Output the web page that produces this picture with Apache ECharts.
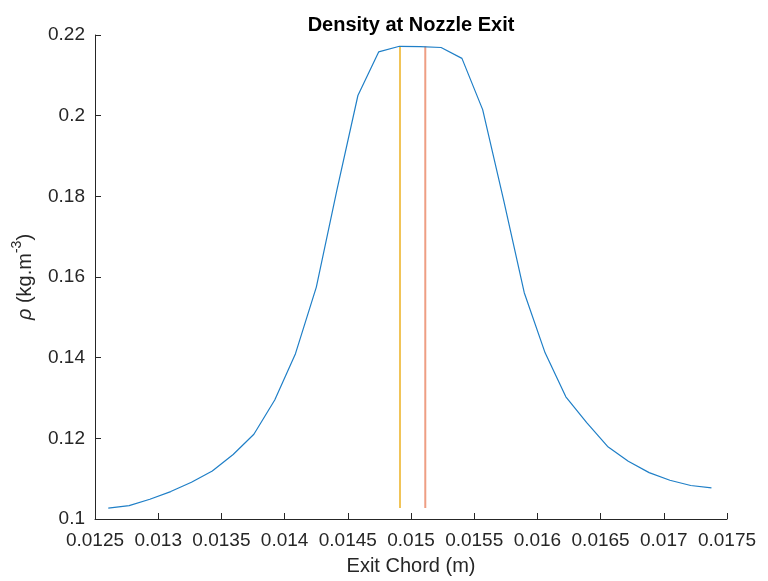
<!DOCTYPE html>
<html>
<head>
<meta charset="utf-8">
<script src="https://cdn.jsdelivr.net/npm/echarts@6/dist/echarts.min.js"></script>
<style>
  html, body { margin: 0; padding: 0; background: #fff; }
  #chart { width: 768px; height: 581px; }
</style>
</head>
<body>
<div id="chart"></div>
<script>
// Exit chord positions (m)
const chordX = [
  0.012605, 0.012770, 0.012934, 0.013099, 0.013263, 0.013428, 0.013593, 0.013757,
  0.013922, 0.014086, 0.014251, 0.014415, 0.014580, 0.014744, 0.014909, 0.015074,
  0.015238, 0.015403, 0.015567, 0.015732, 0.015896, 0.016061, 0.016225, 0.016390,
  0.016555, 0.016719, 0.016884, 0.017048, 0.017213, 0.017377
];
// Density at each chord position (kg/m^3)
const density = [
  0.1027, 0.1033, 0.1049, 0.1068, 0.1091, 0.1119, 0.1160, 0.1210,
  0.1295, 0.1410, 0.1575, 0.1817, 0.2050, 0.2158, 0.2172, 0.2171,
  0.2169, 0.2142, 0.2015, 0.1792, 0.1561, 0.1412, 0.1303, 0.1239,
  0.1180, 0.1143, 0.1115, 0.1096, 0.1083, 0.1077
];
// Marker positions along the chord
const markerYellowX = 0.014913;
const markerRedX = 0.015113;
const densityMin = 0.1027;
const densityMax = 0.2172;

// Axis ranges
const xMin = 0.0125, xMax = 0.0175, xStep = 0.0005;
const yMin = 0.1, yMax = 0.22, yStep = 0.02;

const axisColor = '#262626';
const fontFam = '"Liberation Sans", Arial, sans-serif';
const tickFont = 19;
const nameFont = 20;
const fmt = v => String(+v.toFixed(6));

const chart = echarts.init(document.getElementById('chart'));
chart.setOption({
  animation: false,
  title: {
    text: 'Density at Nozzle Exit',
    left: 406, top: 10, textAlign: 'center',
    textStyle: { fontFamily: fontFam, fontSize: 20, fontWeight: 'bold', color: '#000' }
  },
  grid: { left: 95, right: 41, top: 35, bottom: 62 },
  xAxis: {
    type: 'value', min: xMin, max: xMax, interval: xStep,
    name: 'Exit Chord (m)', nameLocation: 'middle', nameGap: 37,
    nameTextStyle: { fontFamily: fontFam, fontSize: nameFont, color: axisColor },
    axisLine: { lineStyle: { color: axisColor, width: 1 } },
    axisTick: { inside: true, length: 6, lineStyle: { color: axisColor } },
    axisLabel: { fontFamily: fontFam, fontSize: tickFont, color: axisColor, margin: 12, formatter: fmt },
    splitLine: { show: false }
  },
  yAxis: {
    type: 'value', min: yMin, max: yMax, interval: yStep,
    name: '{it|ρ} {n|(kg.m}{sup|-3}{n|)}', nameLocation: 'middle', nameRotate: 90, nameGap: 60,
    nameTextStyle: {
      fontFamily: fontFam, fontSize: nameFont, color: axisColor,
      rich: {
        it: { fontFamily: fontFam, fontSize: nameFont, fontStyle: 'italic', color: axisColor, lineHeight: 25, verticalAlign: 'bottom' },
        n: { fontFamily: fontFam, fontSize: nameFont, color: axisColor, lineHeight: 25, verticalAlign: 'bottom' },
        sup: { fontFamily: fontFam, fontSize: 14, color: axisColor, lineHeight: 14, verticalAlign: 'top' }
      }
    },
    axisLine: { show: true, lineStyle: { color: axisColor, width: 1 } },
    axisTick: { show: true, inside: true, length: 6, lineStyle: { color: axisColor } },
    axisLabel: { fontFamily: fontFam, fontSize: tickFont, color: axisColor, margin: 10, formatter: fmt },
    splitLine: { show: false }
  },
  series: [
    {
      type: 'line', data: chordX.map((x, i) => [x, density[i]]),
      symbol: 'none', lineStyle: { color: '#1f7fc7', width: 1.2 }, z: 3
    },
    {
      type: 'line', data: [[markerYellowX, densityMin], [markerYellowX, densityMax]],
      symbol: 'none', lineStyle: { color: '#EDB120', width: 1.5 }, z: 2
    },
    {
      type: 'line', data: [[markerRedX, densityMin], [markerRedX, densityMax]],
      symbol: 'none', lineStyle: { color: '#EE9E84', width: 2 }, z: 2
    }
  ]
});
</script>
</body>
</html>
